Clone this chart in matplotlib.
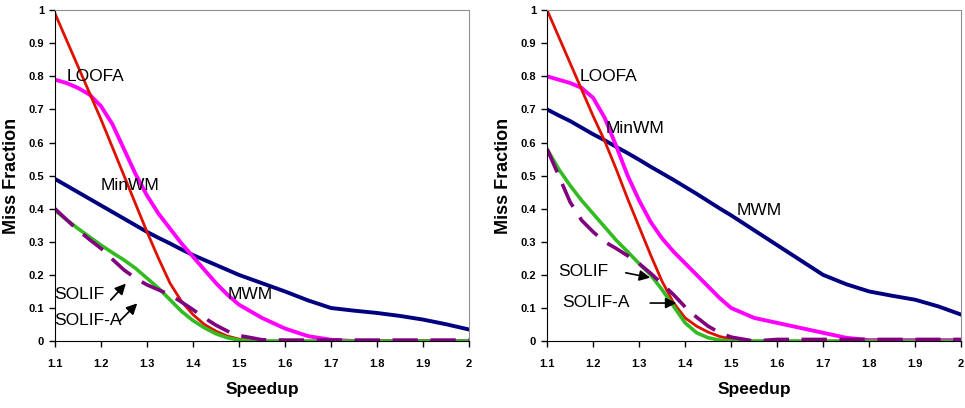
import matplotlib
matplotlib.use('Agg')
import matplotlib.pyplot as plt

# speedup values (x axis)
speedup = [1.1, 1.125, 1.15, 1.175, 1.2, 1.225, 1.25, 1.275, 1.3, 1.325, 1.35, 1.375,
           1.4, 1.425, 1.45, 1.475, 1.5, 1.55, 1.6, 1.65, 1.7, 1.75, 1.8, 1.85, 1.9,
           1.95, 2.0]

# left panel
left_loofa = [0.99, 0.91, 0.83, 0.75, 0.67, 0.585, 0.50, 0.415, 0.33, 0.25, 0.175, 0.12,
              0.08, 0.05, 0.03, 0.015, 0.006, 0.0, 0.0, 0.0, 0.0, 0.0, 0.0, 0.0, 0.0,
              0.0, 0.0]
left_minwm = [0.79, 0.78, 0.765, 0.745, 0.71, 0.655, 0.58, 0.505, 0.44, 0.385, 0.34, 0.295,
              0.255, 0.215, 0.175, 0.14, 0.11, 0.07, 0.038, 0.015, 0.004, 0.0, 0.0, 0.0,
              0.0, 0.0, 0.0]
left_mwm = [0.49, 0.47, 0.45, 0.43, 0.41, 0.39, 0.37, 0.35, 0.33, 0.312, 0.295, 0.277,
            0.26, 0.245, 0.23, 0.215, 0.20, 0.175, 0.15, 0.123, 0.10, 0.092, 0.085, 0.076,
            0.065, 0.051, 0.035]
left_solif = [0.395, 0.367, 0.34, 0.315, 0.29, 0.267, 0.245, 0.22, 0.19, 0.16, 0.125, 0.09,
              0.062, 0.04, 0.022, 0.01, 0.003, 0.0, 0.0, 0.0, 0.0, 0.0, 0.0, 0.0, 0.0,
              0.0, 0.0]
left_solifa = [0.40, 0.367, 0.335, 0.307, 0.28, 0.247, 0.215, 0.19, 0.17, 0.155, 0.14, 0.118,
               0.095, 0.07, 0.048, 0.03, 0.017, 0.004, 0.003, 0.003, 0.003, 0.003, 0.003,
               0.003, 0.003, 0.003, 0.003]

# right panel
right_loofa = [1.0, 0.92, 0.84, 0.76, 0.68, 0.605, 0.52, 0.43, 0.345, 0.26, 0.18, 0.115,
               0.07, 0.045, 0.027, 0.014, 0.006, 0.0, 0.0, 0.0, 0.0, 0.0, 0.0, 0.0, 0.0,
               0.0, 0.0]
right_minwm = [0.80, 0.79, 0.78, 0.765, 0.735, 0.675, 0.59, 0.50, 0.425, 0.36, 0.31, 0.27,
               0.235, 0.20, 0.165, 0.13, 0.10, 0.07, 0.055, 0.04, 0.025, 0.01, 0.003, 0.003,
               0.003, 0.003, 0.003]
right_mwm = [0.70, 0.682, 0.665, 0.645, 0.625, 0.607, 0.587, 0.568, 0.548, 0.527, 0.507,
             0.487, 0.466, 0.445, 0.423, 0.401, 0.38, 0.335, 0.29, 0.245, 0.20, 0.172, 0.15,
             0.137, 0.125, 0.105, 0.08]
right_solif = [0.58, 0.52, 0.47, 0.425, 0.385, 0.345, 0.305, 0.27, 0.234, 0.2, 0.155, 0.105,
               0.055, 0.025, 0.01, 0.003, 0.0, 0.0, 0.0, 0.0, 0.0, 0.0, 0.0, 0.0, 0.0,
               0.0, 0.0]
right_solifa = [0.58, 0.50, 0.42, 0.365, 0.33, 0.30, 0.28, 0.258, 0.234, 0.205, 0.173, 0.14,
                0.103, 0.072, 0.045, 0.025, 0.012, 0.0, 0.005, 0.005, 0.005, 0.005, 0.005,
                0.005, 0.005, 0.005, 0.005]

xticks = [1.1, 1.2, 1.3, 1.4, 1.5, 1.6, 1.7, 1.8, 1.9, 2.0]
xtick_labels = ['1.1', '1.2', '1.3', '1.4', '1.5', '1.6', '1.7', '1.8', '1.9', '2']
yticks = [0, 0.1, 0.2, 0.3, 0.4, 0.5, 0.6, 0.7, 0.8, 0.9, 1.0]
ytick_labels = ['0', '0.1', '0.2', '0.3', '0.4', '0.5', '0.6', '0.7', '0.8', '0.9', '1']

font = ['Liberation Sans', 'DejaVu Sans']

fig = plt.figure(figsize=(9.65, 4.08), dpi=100)
ax_l = fig.add_axes([0.057, 0.164, 0.429, 0.811])
ax_r = fig.add_axes([0.567, 0.164, 0.429, 0.811])


def draw(ax, loofa, minwm, mwm, solif, solifa):
    ax.plot(speedup, mwm, color='#000080', lw=2.8)
    ax.plot(speedup, minwm, color='#ff00ff', lw=2.8)
    ax.plot(speedup, loofa, color='#e01000', lw=2.0)
    ax.plot(speedup, solif, color='#33bb22', lw=2.6)
    ax.plot(speedup, solifa, color='#800080', lw=2.6, dashes=(7, 3.5))
    ax.set_xlim(1.1, 2.0)
    ax.set_ylim(0, 1.0)
    ax.set_xticks(xticks)
    ax.set_xticklabels(xtick_labels, family=font, fontweight='bold', fontsize=8)
    ax.set_yticks(yticks)
    ax.set_yticklabels(ytick_labels, family=font, fontweight='bold', fontsize=8)
    ax.tick_params(direction='out', length=4, width=1, pad=9)
    ax.tick_params(axis='y', pad=4)
    for s in ['top', 'right']:
        ax.spines[s].set_color('#909090')
    for s in ['left', 'bottom']:
        ax.spines[s].set_color('black')
    ax.set_xlabel('Speedup', family=font, fontweight='bold', fontsize=12.5, labelpad=9)
    ax.set_ylabel('Miss Fraction', family=font, fontweight='bold', fontsize=13, labelpad=6)


draw(ax_l, left_loofa, left_minwm, left_mwm, left_solif, left_solifa)
draw(ax_r, right_loofa, right_minwm, right_mwm, right_solif, right_solifa)

lab = dict(family=font, fontsize=12.5, va='center', ha='left')
arrow = dict(arrowstyle='-|>', color='black', lw=1.2, mutation_scale=16)

# left labels
ax_l.text(1.125, 0.80, 'LOOFA', **lab)
ax_l.text(1.2, 0.47, 'MinWM', **lab)
ax_l.text(1.475, 0.14, 'MWM', **lab)
ax_l.text(1.098, 0.14, 'SOLIF', **lab)
ax_l.text(1.098, 0.063, 'SOLIF-A', **lab)
ax_l.annotate('', xy=(1.258, 0.18), xytext=(1.217, 0.118), arrowprops=arrow)
ax_l.annotate('', xy=(1.283, 0.12), xytext=(1.236, 0.054), arrowprops=arrow)

# right labels
ax_r.text(1.17, 0.80, 'LOOFA', **lab)
ax_r.text(1.228, 0.643, 'MinWM', **lab)
ax_r.text(1.512, 0.396, 'MWM', **lab)
ax_r.text(1.124, 0.21, 'SOLIF', **lab)
ax_r.text(1.133, 0.118, 'SOLIF-A', **lab)
ax_r.annotate('', xy=(1.33, 0.19), xytext=(1.265, 0.208), arrowprops=arrow)
ax_r.annotate('', xy=(1.387, 0.115), xytext=(1.318, 0.115), arrowprops=arrow)

fig.savefig('out.png', dpi=100)
